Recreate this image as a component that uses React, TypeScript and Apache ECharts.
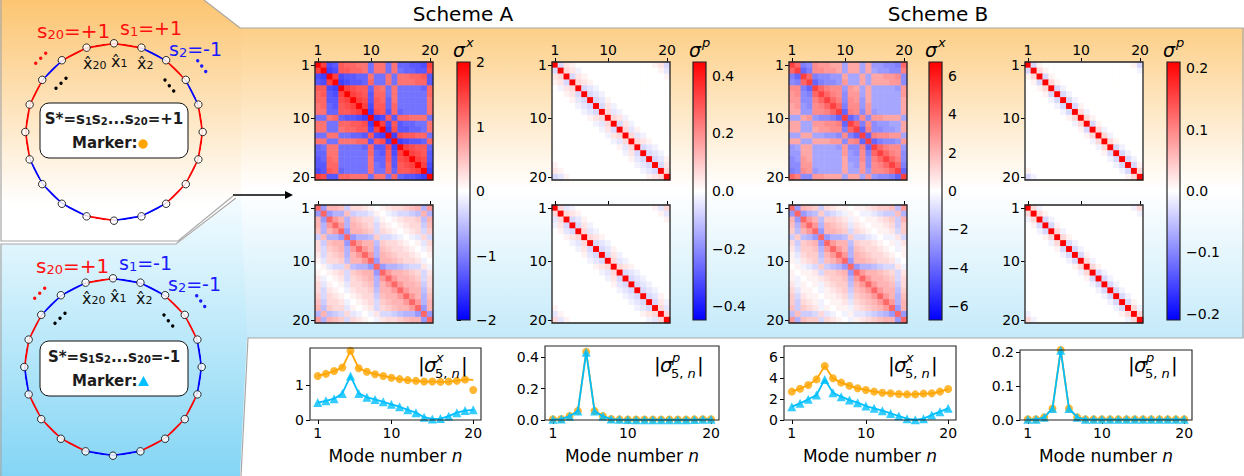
import React, { useEffect, useRef } from 'react';
import * as echarts from 'echarts';

const FONT = 'DejaVu Sans';
const ORANGE = '#ffa500';
const SKY = '#00bfff';
const RED = '#ff0000';
const BLUE = '#0000ff';
const BWR = ['#0000ff', '#ffffff', '#ff0000'];

// categories
const MODES = ['1', '2', '3', '4', '5', '6', '7', '8', '9', '10', '11', '12', '13', '14', '15', '16', '17', '18', '19', '20'];
const MODE_N = [1, 2, 3, 4, 5, 6, 7, 8, 9, 10, 11, 12, 13, 14, 15, 16, 17, 18, 19, 20];
const HEAT_TICKS = ['1', '10', '20'];
const LINE_X_TICKS = [1, 10, 20];

// empty (zero) cells
const z = (n: number) => '0'.repeat(n);

// Matrices: one char per cell, 'A'..'T' = +1..+20 twentieths of the colour range, 'a'..'t' negative, '0' zero
const A_SX_TOP = [
  'TOnmMLLKKkKKkKllmmnO', 'OTonMMLLKkKKkKkllmmN', 'noTOnmmllKkkKkKKLLMm', 'mnOTonmmlLkkKkKKKLLm',
  'MMnoTONMMlLKkKkkkklL', 'LMmnOTONMmLLkKkkkkkL', 'LLmmNOTONmMLlKkkkkkK', 'KLlmMNOTOnMMlLkkkkkK',
  'KKllMMNOToNMmLlkkkkK', 'kkKLlmmnoTonMmLLKKKk', 'KKkkLLMMNoTOnMmllkkK', 'KKkkKLLMMnOToNmmllkK',
  'kkKKkkllmMnoToNMMLLk', 'KKkkKKKLLmMNoTonmmlL', 'lkKKkkkklLmmNoTONMMl', 'llKKkkkkkLlmMnOTONMm',
  'mlLKkkkkkKllMmNOTONm', 'mmLLkkkkkKklLmMNOTOn', 'nmMLlkkkkKkkLlMMNOTo', 'ONmmLLKKKkKKkLlmmnoT',
];
const A_SX_BOTTOM = [
  'LhFFEdCCBA0ABCCDEFfH', 'hLhffEdccbA0abccdeFf', 'FhLHFfEDCCbA0ABCCDeF', 'FfHLHfFEDCcBA0ABCCdE',
  'EfFHLhFFEDcCBA0ABCcD', 'dEffhLhffeDccba0abCc', 'CdEFFhLHFFeDCCBA0AbC', 'CcDEFfHLHFfEDCCBA0aB',
  'BcCDEfFHLHfFEDCCBA0A', 'AbCCDeFFHLhFFEDCCBa0', '0AbccDeffhLhffedccBa', 'A0ABCcDEFFhLHFFEDCcB',
  'Ba0ABcCDEFfHLHFFEDcC', 'CbA0AbCCDEfFHLHFFEdC', 'CcBA0aBCCDeFFHLHFFeD', 'DcCBA0ABCCdEFFHLHFfE',
  'EdCCBa0ABCcDEFFHLHfF', 'FeDCCbA0ABcCDEFFHLhF', 'fFedcCba0aBccdeffhLh', 'HfFEDcCBA0aBCCDEFFhL',
];
const A_SP_TOP = [
  'TcBA' + z(13) + 'ABc', 'cTCBa' + z(13) + 'Ab', 'BCTcBA' + z(13) + 'A', 'ABcTCBA' + z(13),
  '0aBCTcba' + z(12), '00ABcTcba' + z(11), '000AbcTcbA' + z(10), '0000abcTcBa' + z(9),
  '00000abcTCba' + z(8), '000000ABCTCBa' + z(7), '0000000abCTcBa' + z(6), '00000000aBcTCbA' + z(5),
  '000000000aBCTCba' + z(4), '0000000000abCTCBA' + z(3), '00000000000AbCTcba' + z(2), '000000000000aBcTcba' + z(1),
  '0000000000000AbcTcbA', 'A' + z(13) + 'abcTcB', 'BA' + z(13) + 'abcTC', 'cbA' + z(13) + 'ABCT',
];
const A_SP_BOTTOM = [
  'TCba' + z(13) + 'AbC', 'CTCBA' + z(13) + 'Ab', 'bCTcbA' + z(13) + 'A', 'aBcTcBa' + z(13),
  '0AbcTCba' + z(12), '00ABCTCBA' + z(11), '000abCTcba' + z(10), '0000aBcTcbA' + z(9),
  '00000AbcTcBa' + z(8), '000000abcTCba' + z(7), '0000000ABCTCBA' + z(6), '00000000abCTcba' + z(5),
  '000000000aBcTcba' + z(4), '0000000000AbcTcba' + z(3), '00000000000abcTcba' + z(2), '000000000000abcTcbA' + z(1),
  '0000000000000abcTcBa', 'A' + z(13) + 'abcTCb', 'bA' + z(13) + 'ABCTC', 'CbA' + z(13) + 'abCT',
];
const B_SX_TOP = [
  'OLjiIHHGGgGGgGhhiijL', 'LOljIIHHGgGGgGghhiiJ', 'jlOLjiihhGggGgGGHHIi', 'ijLOljiihHggGgGGGHHi',
  'IIjlOLJIIhHGgGgggghH', 'HIijLOLJIiHHgGgggggH', 'HHiiJLOLJiIHhGgggggG', 'GHhiIJLOLjIIhHgggggG',
  'GGhhIIJLOlJIiHhggggG', 'ggGHhiijlOljIiHHGGGg', 'GGggHHIIJlOLjIihhggG', 'GGggGHHIIjLOlJiihhgG',
  'ggGGgghhiIjlOlJIIHHg', 'GGggGGGHHiIJlOljiihH', 'hgGGgggghHiiJlOLJIIh', 'hhGGgggggHhiIjLOLJIi',
  'ihHGgggggGhhIiJLOLJi', 'iiHHgggggGghHiIJLOLj', 'jiIHhggggGggHhIIJLOl', 'LJiiHHGGGgGGgHhiijlO',
];
const B_SX_BOTTOM = [
  'LhFEDdCBAA0AABCDDEeH', 'hLhfeDdcbaA0aabcddEf', 'FhLHFeDDCBaA0AABCDdF', 'EfHLHfFEDCbBA0AABCdD',
  'DeFHLhFFEDcCBA0AABcD', 'dDefhLhffeDccba0aaBc', 'CdDEFhLHFFeDCCBA0AaB', 'BcDDEfHLHFfEDCCBA0aA',
  'AbCDDeFHLHfFEDCCBA0A', 'AaBCDdEFHLhFFEDCCBa0', '0AabcDdefhLhffedccBa', 'A0AABcDDEFhLHFFEDCcB',
  'Aa0AABCDDEfHLHFFEDcC', 'BaA0AaBCDDeFHLHFFEdC', 'CbAA0aABCDdEFHLHFFeD', 'DcBAA0AABCcDEFHLHFfE',
  'DdCBAa0AABbCDEFHLHfF', 'EdDCBaA0AAaBCDEFHLhF', 'eEddcCba0aAbbcdefhLh', 'HfEDDcCBA0aABCDEFFhL',
];
const B_SP_TOP = [
  'TcA' + z(15) + 'Ac', 'cTCA' + z(15) + 'a', 'ACTcA' + z(15), '0AcTCA' + z(14),
  '00ACTca' + z(13), '000AcTca' + z(12), '0000acTca' + z(11), '00000acTcA' + z(10),
  '000000acTCa' + z(9), '0000000ACTCA' + z(8), '00000000aCTcA' + z(7), '000000000AcTCa' + z(6),
  '0000000000ACTCa' + z(5), '00000000000aCTCA' + z(4), '000000000000aCTca' + z(3), '0000000000000AcTca' + z(2),
  '00000000000000acTca' + z(1), z(15) + 'acTcA', 'A' + z(15) + 'acTC', 'ca' + z(15) + 'ACT',
];
const B_SP_BOTTOM = [
  'TCa' + z(15) + 'aC', 'CTCA' + z(15) + 'a', 'aCTca' + z(15), '0AcTcA' + z(14),
  '00acTCa' + z(13), '000ACTCA' + z(12), '0000aCTca' + z(11), '00000AcTca' + z(10),
  '000000acTcA' + z(9), '0000000acTCa' + z(8), '00000000ACTCA' + z(7), '000000000aCTca' + z(6),
  '0000000000AcTca' + z(5), '00000000000acTca' + z(4), '000000000000acTca' + z(3), '0000000000000acTca' + z(2),
  '00000000000000acTcA' + z(1), z(15) + 'acTCa', 'a' + z(15) + 'ACTC', 'Ca' + z(15) + 'aCT',
];

// colour ranges and colour-bar ticks
const RANGE_A_SX = 2;
const RANGE_A_SP = 0.448;
const RANGE_B_SX = 6.73;
const RANGE_B_SP = 0.21;
const CBAR_TICKS_A_SX = [-2, -1, 0, 1, 2];
const CBAR_TICKS_A_SP = [-0.4, -0.2, 0, 0.2, 0.4];
const CBAR_TICKS_B_SX = [-6, -4, -2, 0, 2, 4, 6];
const CBAR_TICKS_B_SP = [-0.2, -0.1, 0, 0.1, 0.2];

// |sigma_{5,n}| line plots
const A_SX_PLUS = [1.26, 1.32, 1.40, 1.50, 1.98, 1.48, 1.38, 1.31, 1.26, 1.21, 1.17, 1.14, 1.12, 1.10, 1.10, 1.09, 1.10, 1.12, 1.16, 0.86];
const A_SX_PLUS_CURVE = [1.26, 1.32, 1.40, 1.50, 1.98, 1.48, 1.38, 1.31, 1.26, 1.21, 1.17, 1.14, 1.12, 1.10, 1.10, 1.09, 1.10, 1.12, 1.16, 1.15];
const A_SX_MINUS = [0.50, 0.55, 0.61, 0.76, 1.26, 0.76, 0.65, 0.59, 0.52, 0.45, 0.38, 0.29, 0.21, 0.08, 0.03, 0.04, 0.11, 0.21, 0.27, 0.29];
const A_SP_PLUS = [0.005, 0.006, 0.025, 0.058, 0.434, 0.058, 0.025, 0.006, 0.004, 0.003, 0.003, 0.003, 0.003, 0.003, 0.003, 0.003, 0.003, 0.004, 0.005, 0.005];
const A_SP_MINUS = [0.004, 0.006, 0.024, 0.057, 0.430, 0.057, 0.024, 0.006, 0.004, 0.003, 0.002, 0.002, 0.002, 0.002, 0.002, 0.002, 0.002, 0.003, 0.004, 0.004];
const B_SX_PLUS = [2.70, 2.98, 3.33, 3.87, 5.14, 3.97, 3.56, 3.27, 3.02, 2.86, 2.70, 2.60, 2.54, 2.48, 2.44, 2.44, 2.51, 2.54, 2.70, 2.95];
const B_SX_MINUS = [1.27, 1.59, 1.97, 2.38, 3.87, 2.60, 2.22, 1.90, 1.65, 1.33, 1.11, 0.89, 0.63, 0.38, 0.13, 0.02, 0.13, 0.48, 0.79, 1.11];
const B_SP_PLUS = [0.002, 0.002, 0.008, 0.034, 0.206, 0.034, 0.008, 0.002, 0.002, 0.002, 0.002, 0.002, 0.002, 0.002, 0.002, 0.002, 0.002, 0.002, 0.002, 0.002];
const B_SP_MINUS = [0.002, 0.002, 0.008, 0.034, 0.205, 0.034, 0.008, 0.002, 0.002, 0.002, 0.002, 0.002, 0.002, 0.002, 0.002, 0.002, 0.002, 0.002, 0.002, 0.002];
const Y_TICKS_A_SX = [0, 1];
const Y_TICKS_A_SP = [0, 0.2, 0.4];
const Y_TICKS_B_SX = [0, 2, 4, 6];
const Y_TICKS_B_SP = [0, 0.1, 0.2];

// ring bond signs s_i (edge from node i to node i+1)
const RING_TOP_SIGNS = [1, -1, 1, -1, 1, 1, 1, 1, -1, -1, 1, -1, -1, -1, 1, 1, 1, -1, 1, 1];
const RING_BOTTOM_SIGNS = [-1, -1, 1, 1, -1, -1, 1, 1, 1, -1, -1, 1, 1, 1, -1, 1, 1, -1, -1, 1];

function decode(rows: string[], vmax: number) {
  const out: number[][] = [];
  rows.forEach((row, i) => {
    for (let j = 0; j < MODES.length; j++) {
      const ch = row.charAt(j) || '0';
      const c = ch.charCodeAt(0);
      let lvl = 0;
      if (c >= 65 && c <= 90) lvl = c - 64;
      else if (c >= 97 && c <= 122) lvl = -(c - 96);
      out.push([j, i, (lvl / 20) * vmax]);
    }
  });
  return out;
}

const minus = (s: string) => s.replace('-', '\u2212');
const intFmt = (v: number) => minus(String(Math.round(v)));
const dec1 = (v: number) => (v < -1e-9 ? '\u2212' : '') + Math.abs(v).toFixed(1);

function T(x: number, y: number, text: string, o: any = {}) {
  return {
    type: 'text', x, y, z: 60, silent: true,
    style: {
      text, fill: o.fill || '#000', fontSize: o.size || 14, fontFamily: FONT,
      fontStyle: o.italic ? 'italic' : 'normal', fontWeight: o.bold ? 'bold' : 'normal',
      align: o.align || 'left', verticalAlign: o.va || 'middle', rich: o.rich,
    },
  };
}

function grad(stops: [number, string][]) {
  return new echarts.graphic.LinearGradient(0, 0, 0, 1, stops.map(([offset, color]) => ({ offset, color })));
}

function buildOption() {
  const HM = 118;
  const HEATMAPS = [
    { rows: A_SX_TOP, range: RANGE_A_SX, left: 315, top: 62, labels: true },
    { rows: A_SX_BOTTOM, range: RANGE_A_SX, left: 315, top: 205, labels: false },
    { rows: A_SP_TOP, range: RANGE_A_SP, left: 552, top: 62, labels: true },
    { rows: A_SP_BOTTOM, range: RANGE_A_SP, left: 552, top: 205, labels: false },
    { rows: B_SX_TOP, range: RANGE_B_SX, left: 789, top: 62, labels: true },
    { rows: B_SX_BOTTOM, range: RANGE_B_SX, left: 789, top: 205, labels: false },
    { rows: B_SP_TOP, range: RANGE_B_SP, left: 1025, top: 62, labels: true },
    { rows: B_SP_BOTTOM, range: RANGE_B_SP, left: 1025, top: 205, labels: false },
  ];
  const CBARS = [
    { range: RANGE_A_SX, ticks: CBAR_TICKS_A_SX, left: 457, fmt: intFmt, sym: 'x' },
    { range: RANGE_A_SP, ticks: CBAR_TICKS_A_SP, left: 693, fmt: dec1, sym: 'p' },
    { range: RANGE_B_SX, ticks: CBAR_TICKS_B_SX, left: 929, fmt: intFmt, sym: 'x' },
    { range: RANGE_B_SP, ticks: CBAR_TICKS_B_SP, left: 1167, fmt: dec1, sym: 'p' },
  ];
  const LINES = [
    { left: 310, top: 348, width: 171, height: 72, ymax: 2.06, yt: Y_TICKS_A_SX, fmt: intFmt, plus: A_SX_PLUS, curve: A_SX_PLUS_CURVE, minusD: A_SX_MINUS, ann: 418, sym: 'x' },
    { left: 545, top: 346, width: 174, height: 74, ymax: 0.47, yt: Y_TICKS_A_SP, fmt: dec1, plus: A_SP_PLUS, curve: A_SP_PLUS, minusD: A_SP_MINUS, ann: 654, sym: 'p' },
    { left: 784, top: 346, width: 172, height: 74, ymax: 7.05, yt: Y_TICKS_B_SX, fmt: intFmt, plus: B_SX_PLUS, curve: B_SX_PLUS, minusD: B_SX_MINUS, ann: 888, sym: 'x' },
    { left: 1020, top: 350, width: 172, height: 70, ymax: 0.206, yt: Y_TICKS_B_SP, fmt: dec1, plus: B_SP_PLUS, curve: B_SP_PLUS, minusD: B_SP_MINUS, ann: 1128, sym: 'p' },
  ];

  const grid: any[] = [];
  const xAxis: any[] = [];
  const yAxis: any[] = [];
  const series: any[] = [];
  const visualMap: any[] = [];
  const graphic: any[] = [];
  const tickFn = (_i: number, v: string) => HEAT_TICKS.includes(v);
  const tickStyle = { color: '#000', width: 1 };

  // backgrounds
  graphic.push(
    { type: 'rect', z: -100, silent: true, shape: { x: 240, y: 28, width: 1004, height: 310 }, style: { fill: grad([[0, '#fdcf88'], [0.52, '#ffffff'], [1, '#c4eafa']]) } },
    { type: 'polygon', z: -99, silent: true, shape: { points: [[0, 0], [204, 0], [241, 28], [241, 193], [178, 241], [0, 241]] }, style: { fill: grad([[0, '#fcc572'], [0.85, '#ffffff'], [1, '#ffffff']]) } },
    { type: 'polygon', z: -99, silent: true, shape: { points: [[0, 244], [177, 244], [241, 196], [247, 338], [240, 476], [0, 476]] }, style: { fill: grad([[0, '#f4fcff'], [1, '#84d5f5']]) } },
    { type: 'polyline', z: -90, silent: true, shape: { points: [[1, 0], [1, 241], [178, 241], [233, 196]] }, style: { stroke: '#a8a8a8', lineWidth: 1.2, fill: null } },
    { type: 'polyline', z: -90, silent: true, shape: { points: [[204, 0], [240, 28], [1243, 28], [1243, 338], [248, 338], [241, 476]] }, style: { stroke: '#a8a8a8', lineWidth: 1.2, fill: null } },
    { type: 'polyline', z: -90, silent: true, shape: { points: [[1, 476], [1, 244], [176, 244], [236, 198]] }, style: { stroke: '#a8a8a8', lineWidth: 1.2, fill: null } },
    { type: 'line', z: 60, silent: true, shape: { x1: 233, y1: 195, x2: 287, y2: 195 }, style: { stroke: '#000', lineWidth: 1.3 } },
    { type: 'polygon', z: 60, silent: true, shape: { points: [[285, 191], [293, 195], [285, 199]] }, style: { fill: '#000' } },
  );

  // heatmaps
  HEATMAPS.forEach((h, k) => {
    const g = grid.length;
    grid.push({ left: h.left, top: h.top, width: HM, height: HM });
    xAxis.push({
      type: 'category', gridIndex: g, data: MODES, position: 'top',
      axisLine: { show: false }, splitLine: { show: false }, splitArea: { show: false },
      axisTick: { show: true, alignWithLabel: true, interval: tickFn, length: 4, lineStyle: tickStyle },
      axisLabel: { show: h.labels, interval: tickFn, fontSize: 14, color: '#000', fontFamily: FONT, margin: 5 },
    });
    yAxis.push({
      type: 'category', gridIndex: g, data: MODES, inverse: true,
      axisLine: { show: false }, splitLine: { show: false }, splitArea: { show: false },
      axisTick: { show: true, alignWithLabel: true, interval: tickFn, length: 4, lineStyle: tickStyle },
      axisLabel: { show: true, interval: tickFn, fontSize: 14, color: '#000', fontFamily: FONT, margin: 5 },
    });
    series.push({ type: 'heatmap', xAxisIndex: g, yAxisIndex: g, data: decode(h.rows, h.range), emphasis: { disabled: true }, itemStyle: { borderWidth: 0 }, progressive: 0 });
    visualMap.push({ type: 'continuous', show: false, seriesIndex: k, dimension: 2, min: -h.range, max: h.range, inRange: { color: BWR } });
    graphic.push({ type: 'rect', z: 50, silent: true, shape: { x: h.left, y: h.top, width: HM, height: HM }, style: { fill: null, stroke: '#222', lineWidth: 1.3 } });
  });

  // colour bars
  CBARS.forEach((c) => {
    const g = grid.length;
    grid.push({ left: c.left, top: 62, width: 13, height: 258 });
    xAxis.push({ type: 'value', gridIndex: g, min: 0, max: 1, show: false });
    yAxis.push({
      type: 'value', gridIndex: g, position: 'right', min: -c.range, max: c.range,
      axisLine: { show: false }, splitLine: { show: false },
      axisTick: { show: true, length: 4, customValues: c.ticks, lineStyle: tickStyle },
      axisLabel: { customValues: c.ticks, formatter: c.fmt, fontSize: 14, color: '#000', fontFamily: FONT, margin: 6 },
    });
    const r = c.range;
    series.push({
      type: 'custom', xAxisIndex: g, yAxisIndex: g, data: [[0, 0]], silent: true,
      renderItem: (_p: any, api: any) => {
        const p1 = api.coord([0, r]);
        const p2 = api.coord([1, -r]);
        return {
          type: 'rect',
          shape: { x: p1[0], y: p1[1], width: p2[0] - p1[0], height: p2[1] - p1[1] },
          style: { fill: new echarts.graphic.LinearGradient(0, 0, 0, 1, [{ offset: 0, color: '#ff0000' }, { offset: 0.5, color: '#ffffff' }, { offset: 1, color: '#0000ff' }]), stroke: '#222', lineWidth: 1.2 },
        };
      },
    });
    graphic.push(T(c.left - 4, 50, 'σ', { size: 19, italic: true }));
    graphic.push(T(c.left + 9, 42, c.sym, { size: 13, italic: true }));
  });

  // line plots
  LINES.forEach((l) => {
    const g = grid.length;
    grid.push({ left: l.left, top: l.top, width: l.width, height: l.height });
    xAxis.push({
      type: 'value', gridIndex: g, min: 0.05, max: 20.95,
      axisLine: { show: false }, splitLine: { show: false },
      axisTick: { show: true, length: 4, customValues: LINE_X_TICKS, lineStyle: tickStyle },
      axisLabel: { customValues: LINE_X_TICKS, fontSize: 14, color: '#000', fontFamily: FONT, margin: 6 },
      name: 'Mode number {i|n}', nameLocation: 'middle', nameGap: 27,
      nameTextStyle: { fontSize: 17, color: '#000', fontFamily: FONT, rich: { i: { fontSize: 17, fontStyle: 'italic', fontFamily: FONT, color: '#000' } } },
    });
    yAxis.push({
      type: 'value', gridIndex: g, min: 0, max: l.ymax,
      axisLine: { show: false }, splitLine: { show: false },
      axisTick: { show: true, length: 4, customValues: l.yt, lineStyle: tickStyle },
      axisLabel: { customValues: l.yt, formatter: l.fmt, fontSize: 14, color: '#000', fontFamily: FONT, margin: 6 },
    });
    series.push(
      { type: 'line', xAxisIndex: g, yAxisIndex: g, data: MODE_N.map((n, i) => [n, l.curve[i]]), symbol: 'none', lineStyle: { color: ORANGE, width: 1.8 }, z: 3, silent: true },
      { type: 'scatter', xAxisIndex: g, yAxisIndex: g, data: MODE_N.map((n, i) => [n, l.plus[i]]), symbol: 'circle', symbolSize: 8, itemStyle: { color: ORANGE }, z: 4, silent: true },
      { type: 'line', xAxisIndex: g, yAxisIndex: g, data: MODE_N.map((n, i) => [n, l.minusD[i]]), symbol: 'none', lineStyle: { color: SKY, width: 1.8 }, z: 5, silent: true },
      { type: 'scatter', xAxisIndex: g, yAxisIndex: g, data: MODE_N.map((n, i) => [n, l.minusD[i]]), symbol: 'triangle', symbolSize: 9, itemStyle: { color: SKY }, z: 6, silent: true },
    );
    graphic.push({ type: 'rect', z: 50, silent: true, shape: { x: l.left, y: l.top, width: l.width, height: l.height }, style: { fill: null, stroke: '#222', lineWidth: 1.1 } });
    const x = l.ann;
    graphic.push(
      T(x, 365, '|', { size: 20 }),
      T(x + 6, 365, 'σ', { size: 20, italic: true }),
      T(x + 18, 357, l.sym, { size: 13, italic: true }),
      T(x + 17, 373, '5, {i|n}', { size: 13, rich: { i: { fontSize: 13, fontStyle: 'italic', fontFamily: FONT } } }),
      T(x + 43, 365, '|', { size: 20 }),
    );
  });

  // titles
  graphic.push(T(463, 14, 'Scheme A', { size: 20, align: 'center' }));
  graphic.push(T(938, 14, 'Scheme B', { size: 20, align: 'center' }));

  // rings
  const polar = [{ center: [114, 132], radius: 88.7 }, { center: [113, 367], radius: 88.7 }];
  const hidden = { axisLine: { show: false }, axisTick: { show: false }, axisLabel: { show: false }, splitLine: { show: false } };
  const angleAxis = [0, 1].map((k) => ({ polarIndex: k, type: 'value', min: 0, max: 20, startAngle: 90, clockwise: true, ...hidden }));
  const radiusAxis = [0, 1].map((k) => ({ polarIndex: k, type: 'value', min: 0, max: 1, ...hidden }));
  [RING_TOP_SIGNS, RING_BOTTOM_SIGNS].forEach((signs, k) => {
    signs.forEach((s, i) => {
      series.push({ type: 'line', coordinateSystem: 'polar', polarIndex: k, data: [[1, i], [1, i + 1]], symbol: 'none', lineStyle: { color: s > 0 ? RED : BLUE, width: 2 }, z: 3, silent: true });
    });
    series.push({ type: 'scatter', coordinateSystem: 'polar', polarIndex: k, data: MODES.map((_m, i) => [1, i]), symbol: 'circle', symbolSize: 7.5, itemStyle: { color: '#fff', borderColor: '#000', borderWidth: 1 }, z: 5, silent: true });
  });

  const subRich = (fill: string, size: number) => ({ b: { fontSize: size, fill, color: fill, fontFamily: FONT, verticalAlign: 'bottom', lineHeight: 7 } });
  const dots = (pts: number[][], fill: string) => pts.map(([cx, cy]) => ({ type: 'circle', z: 60, silent: true, shape: { cx, cy, r: 1.7 }, style: { fill } }));
  [0, 1].forEach((k) => {
    const dy = k * 235;
    const dx = -k;
    const s1 = k === 0 ? '=+1' : '=-1';
    const s1c = k === 0 ? '#ff1010' : '#1a1aff';
    graphic.push(
      T(37 + dx, 31 + dy, 's{b|20}=+1', { size: 20, fill: '#ff1010', rich: subRich('#ff1010', 13) }),
      T(120 + dx, 28 + dy, 's{b|1}' + s1, { size: 19, fill: s1c, rich: subRich(s1c, 13) }),
      T(169 + dx, 49 + dy, 's{b|2}=-1', { size: 19, fill: '#1a1aff', rich: subRich('#1a1aff', 13) }),
      T(83 + dx, 63 + dy, 'x\u0302{b|20}', { size: 16, fill: '#111', rich: subRich('#111', 11) }),
      T(111 + dx, 61 + dy, 'x\u0302{b|1}', { size: 16, fill: '#111', rich: subRich('#111', 11) }),
      T(137 + dx, 63 + dy, 'x\u0302{b|2}', { size: 16, fill: '#111', rich: subRich('#111', 11) }),
      ...dots([[35.7 + dx, 63.3 + dy], [40.7 + dx, 58.3 + dy], [45.7 + dx, 53.3 + dy]], '#ff1010'),
      ...dots([[197.7 + dx, 60.7 + dy], [201.7 + dx, 66 + dy], [205.7 + dx, 71.5 + dy]], '#1a1aff'),
      ...dots([[56 + dx, 88.3 + dy], [61 + dx, 83.3 + dy], [66 + dx, 78.3 + dy]], '#000'),
      ...dots([[165 + dx, 80 + dy], [169.3 + dx, 85.7 + dy], [173.7 + dx, 91 + dy]], '#000'),
    );
    const by = k === 0 ? 103 : 341;
    graphic.push(
      { type: 'rect', z: 55, silent: true, shape: { x: 40, y: by, width: 148, height: 55, r: 9 }, style: { fill: '#fff', stroke: '#111', lineWidth: 1 } },
      T(114, by + 16, 'S*=s{b|1}s{b|2}...s{b|20}' + (k === 0 ? '=+1' : '=-1'), { size: 15, bold: true, align: 'center', fill: '#1c1c1c', rich: { b: { fontSize: 10, fontWeight: 'bold', fontFamily: FONT, verticalAlign: 'bottom', lineHeight: 6 } } }),
      T(72, by + 40, 'Marker:', { size: 15, bold: true, fill: '#1c1c1c' }),
    );
    if (k === 0) graphic.push({ type: 'circle', z: 60, silent: true, shape: { cx: 143, cy: by + 41, r: 4.7 }, style: { fill: ORANGE } });
    else graphic.push({ type: 'polygon', z: 60, silent: true, shape: { points: [[138, by + 45], [149, by + 45], [143.5, by + 35]] }, style: { fill: SKY } });
  });

  return {
    animation: false,
    backgroundColor: '#ffffff',
    textStyle: { fontFamily: FONT },
    grid, xAxis, yAxis, series, visualMap, polar, angleAxis, radiusAxis,
    graphic: { elements: graphic },
  };
}

export default function App() {
  const ref = useRef<HTMLDivElement>(null);
  useEffect(() => {
    const chart = echarts.init(ref.current as HTMLDivElement, null, { renderer: 'svg' });
    chart.setOption(buildOption() as any);
    return () => chart.dispose();
  }, []);
  return <div ref={ref} style={{ position: 'fixed', left: 0, top: 0, width: 1244, height: 476, background: '#fff' }} />;
}
